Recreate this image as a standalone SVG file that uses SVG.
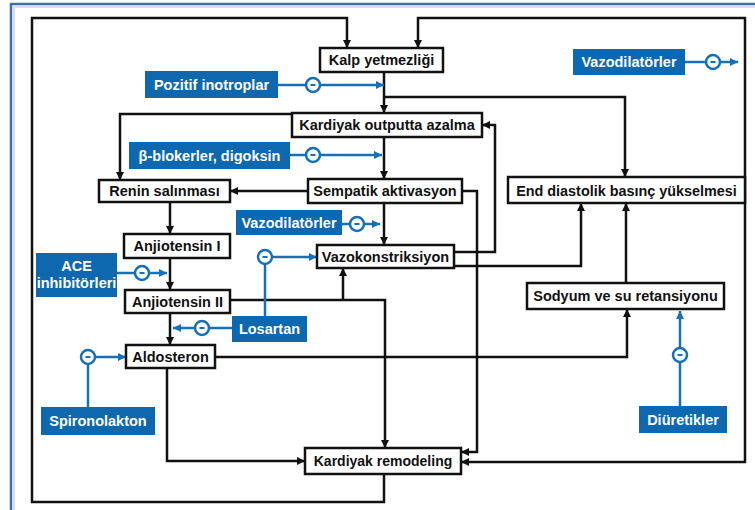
<svg xmlns="http://www.w3.org/2000/svg" width="755" height="510" viewBox="0 0 755 510">
<style>
.nb rect{fill:#fff;stroke:#111;stroke-width:2.5}
.nb text{font-family:"Liberation Sans",Arial,sans-serif;font-weight:bold;font-size:14.5px;fill:#111;text-anchor:middle}
.bb rect{fill:#0d68b0;stroke:none}
.bb text{font-family:"Liberation Sans",Arial,sans-serif;font-weight:bold;font-size:14.5px;fill:#fff;text-anchor:middle}
.k path{fill:none;stroke:#111;stroke-width:2.5}
.b path{fill:none;stroke:#1570b8;stroke-width:2.5}
.inh circle{fill:#fff;stroke:#1570b8;stroke-width:2.5}
.inh line{stroke:#1570b8;stroke-width:2}
</style>
<defs>
<marker id="ak" markerUnits="userSpaceOnUse" markerWidth="8" markerHeight="8" refX="8" refY="4" orient="auto-start-reverse"><path d="M0,0 L8,4 L0,8 z" fill="#111"/></marker>
<marker id="ab" markerUnits="userSpaceOnUse" markerWidth="8" markerHeight="8" refX="8" refY="4" orient="auto"><path d="M0,0 L8,4 L0,8 z" fill="#1570b8"/></marker>
</defs>
<rect x="0" y="0" width="755" height="510" fill="#fff"/>
<rect x="11" y="4" width="760" height="520" fill="none" stroke="#3d6fb8" stroke-width="2.5"/>
<rect x="14" y="7" width="760" height="520" fill="none" stroke="#c8d6ee" stroke-width="1.5"/>

<g id="connectors" class="k">
<path d="M384,474 V502 H32 V18 H347 V48" marker-end="url(#ak)"/>
<path d="M418,48 V18 H745 V462 H461" marker-start="url(#ak)" marker-end="url(#ak)"/>
<path d="M384,72 V113" marker-end="url(#ak)"/>
<path d="M384,97 H625 V177" marker-end="url(#ak)"/>
<path d="M292,114 H120 V180" marker-end="url(#ak)"/>
<path d="M384,137 V179" marker-end="url(#ak)"/>
<path d="M308,191 H230" marker-end="url(#ak)"/>
<path d="M384,204 V245" marker-end="url(#ak)"/>
<path d="M462,191 H477 V452 H461" marker-end="url(#ak)"/>
<path d="M454,252 H495 V125 H482" marker-end="url(#ak)"/>
<path d="M454,266 H581 V203" marker-end="url(#ak)"/>
<path d="M626,283 V203" marker-end="url(#ak)"/>
<path d="M215,357 H627 V309" marker-end="url(#ak)"/>
<path d="M230,300 H385 V448" marker-end="url(#ak)"/>
<path d="M343,300 V268" marker-end="url(#ak)"/>
<path d="M167,368 V461 H305" marker-end="url(#ak)"/>
<path d="M170,202 V234" marker-end="url(#ak)"/>
<path d="M170,258 V290" marker-end="url(#ak)"/>
<path d="M170,313 V345" marker-end="url(#ak)"/>
</g>

<g id="inhibitors" class="b">
<path d="M278,85 H306"/><path d="M320,85 H384" marker-end="url(#ab)"/>
<path d="M685,62 H706"/><path d="M720,62 H738" marker-end="url(#ab)"/>
<path d="M290,155 H306"/><path d="M320,155 H382" marker-end="url(#ab)"/>
<path d="M342,224 H350"/><path d="M364,224 H380" marker-end="url(#ab)"/>
<path d="M117,273 H135"/><path d="M149,273 H167" marker-end="url(#ab)"/>
<path d="M265,316 V264"/><path d="M272,257 H317" marker-end="url(#ab)"/>
<path d="M232,328 H209"/><path d="M195,328 H173" marker-end="url(#ab)"/>
<path d="M88,407 V364"/><path d="M95,357 H126" marker-end="url(#ab)"/>
<path d="M680,406 V362"/><path d="M680,348 V311" marker-end="url(#ab)"/>
</g>
<g class="inh">
<g id="m1"><circle cx="313" cy="85" r="7"/><line x1="310.5" y1="85" x2="315.5" y2="85"/></g>
<g id="m2"><circle cx="713" cy="62" r="7"/><line x1="710.5" y1="62" x2="715.5" y2="62"/></g>
<g id="m3"><circle cx="313" cy="155" r="7"/><line x1="310.5" y1="155" x2="315.5" y2="155"/></g>
<g id="m4"><circle cx="357" cy="224" r="7"/><line x1="354.5" y1="224" x2="359.5" y2="224"/></g>
<g id="m5"><circle cx="142" cy="273" r="7"/><line x1="139.5" y1="273" x2="144.5" y2="273"/></g>
<g id="m6"><circle cx="265" cy="257" r="7"/><line x1="262.5" y1="257" x2="267.5" y2="257"/></g>
<g id="m7"><circle cx="202" cy="328" r="7"/><line x1="199.5" y1="328" x2="204.5" y2="328"/></g>
<g id="m8"><circle cx="88" cy="357" r="7"/><line x1="85.5" y1="357" x2="90.5" y2="357"/></g>
<g id="m9"><circle cx="680" cy="355" r="7"/><line x1="677.5" y1="355" x2="682.5" y2="355"/></g>
</g>

<g class="nb">
<g id="kalp"><rect x="320" y="48" width="123" height="24"/><text x="381.5" y="65">Kalp yetmezliği</text></g>
<g id="kardiyak"><rect x="292" y="113" width="190" height="24"/><text x="387" y="130">Kardiyak outputta azalma</text></g>
<g id="sempatik"><rect x="308" y="179" width="154" height="24"/><text x="385" y="196">Sempatik aktivasyon</text></g>
<g id="vazokonstriksiyon"><rect x="317" y="245" width="137" height="23"/><text x="385.5" y="261.5">Vazokonstriksiyon</text></g>
<g id="renin"><rect x="99" y="180" width="131" height="22"/><text x="164.5" y="196">Renin salınması</text></g>
<g id="anjiotensin1"><rect x="124" y="234" width="106" height="24"/><text x="177" y="251">Anjiotensin I</text></g>
<g id="anjiotensin2"><rect x="125" y="290" width="105" height="23"/><text x="177.5" y="306.5">Anjiotensin II</text></g>
<g id="aldosteron"><rect x="126" y="345" width="89" height="23"/><text x="170.5" y="361.5">Aldosteron</text></g>
<g id="remodeling"><rect x="305" y="448" width="156" height="26"/><text x="383" y="466" style="font-size:14px">Kardiyak remodeling</text></g>
<g id="enddiastolik"><rect x="508" y="177" width="237" height="26"/><text x="626.5" y="195.5" style="font-size:14.4px">End diastolik basınç yükselmesi</text></g>
<g id="sodyum"><rect x="527" y="283" width="197" height="26"/><text x="625.5" y="301">Sodyum ve su retansiyonu</text></g>
</g>

<g class="bb">
<g id="pozitif"><rect x="145" y="71" width="133" height="27"/><text x="211.5" y="89.5">Pozitif inotroplar</text></g>
<g id="vazodilatorler1"><rect x="573" y="49" width="112" height="26"/><text x="629" y="67">Vazodilatörler</text></g>
<g id="betablokerler"><rect x="129" y="142" width="161" height="27"/><text x="209.5" y="160.5">β-blokerler, digoksin</text></g>
<g id="vazodilatorler2"><rect x="236" y="210" width="106" height="25"/><text x="289" y="227.5">Vazodilatörler</text></g>
<g id="ace"><rect x="36" y="253" width="81" height="44"/><text x="76.5" y="271">ACE</text><text x="76.5" y="288">inhibitörleri</text></g>
<g id="losartan"><rect x="232" y="316" width="75" height="26"/><text x="269.5" y="334">Losartan</text></g>
<g id="spironolakton"><rect x="41" y="407" width="114" height="28"/><text x="98" y="426">Spironolakton</text></g>
<g id="diuretikler"><rect x="639" y="406" width="88" height="27"/><text x="683" y="424.5">Diüretikler</text></g>
</g>
</svg>
